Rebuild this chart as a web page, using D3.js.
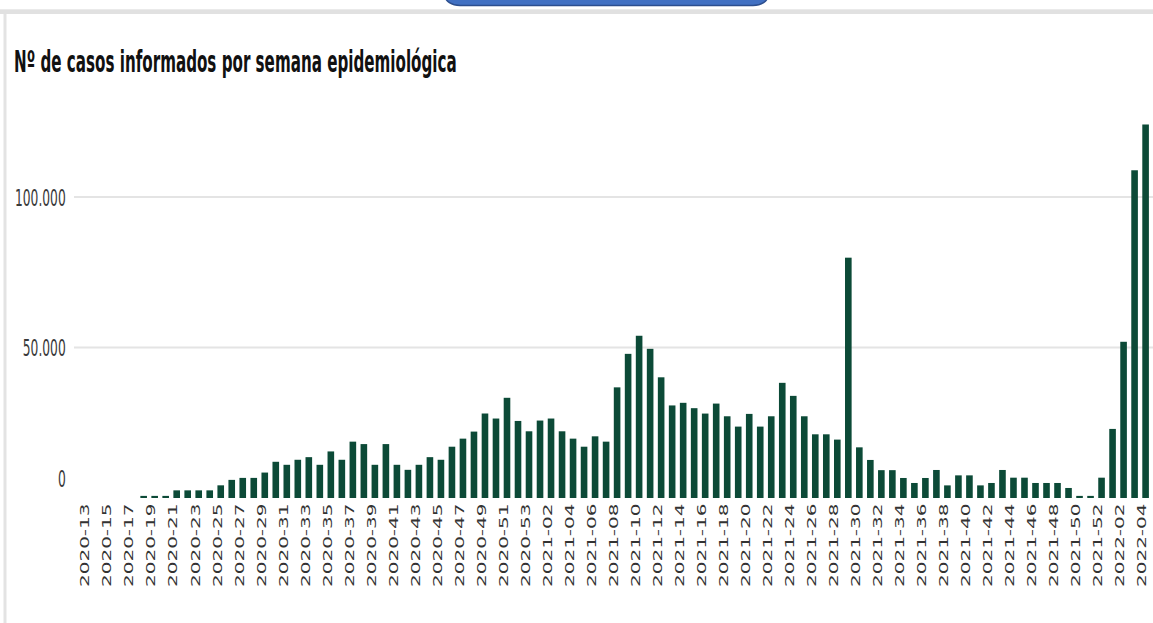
<!DOCTYPE html>
<html><head><meta charset="utf-8">
<script src="https://cdn.jsdelivr.net/npm/d3@7"></script>
<style>html,body{margin:0;padding:0;background:#fff;overflow:hidden}svg{display:block}</style>
</head><body>
<svg id="c" width="1153" height="623"></svg>
<script>
const title = "Nº de casos informados por semana epidemiológica";
const weeks = [
"2020-13","2020-14","2020-15","2020-16","2020-17","2020-18","2020-19","2020-20","2020-21","2020-22",
"2020-23","2020-24","2020-25","2020-26","2020-27","2020-28","2020-29","2020-30","2020-31","2020-32",
"2020-33","2020-34","2020-35","2020-36","2020-37","2020-38","2020-39","2020-40","2020-41","2020-42",
"2020-43","2020-44","2020-45","2020-46","2020-47","2020-48","2020-49","2020-50","2020-51","2020-52",
"2020-53","2021-01","2021-02","2021-03","2021-04","2021-05","2021-06","2021-07","2021-08","2021-09",
"2021-10","2021-11","2021-12","2021-13","2021-14","2021-15","2021-16","2021-17","2021-18","2021-19",
"2021-20","2021-21","2021-22","2021-23","2021-24","2021-25","2021-26","2021-27","2021-28","2021-29",
"2021-30","2021-31","2021-32","2021-33","2021-34","2021-35","2021-36","2021-37","2021-38","2021-39",
"2021-40","2021-41","2021-42","2021-43","2021-44","2021-45","2021-46","2021-47","2021-48","2021-49",
"2021-50","2021-51","2021-52","2022-01","2022-02","2022-03","2022-04"];
const cases = [
0,0,0,0,0,700,700,700,2540,2540,
2540,2540,4210,6020,6680,6680,8450,12030,11030,12700,
13570,11030,15470,12700,18720,17910,11030,17910,11030,9360,
11030,13570,12700,17040,19720,22060,28070,26400,33290,25600,
22160,25730,26400,22160,19720,17040,20490,18720,36760,47890,
53900,49560,40100,30750,31620,29840,28050,31370,27150,23720,
27940,23720,27150,38260,33930,27150,21160,21160,19400,79840,
16830,12640,9250,9250,6650,4990,6650,9310,4190,7520,
7520,4190,4990,9310,6750,6750,4990,4990,4990,3330,
700,700,6750,22950,51900,108880,124090];
const yTicks = [0, 50000, 100000];
const yTickLabels = ["0", "50.000", "100.000"];

const svg = d3.select("#c");

// page decoration
svg.append("rect").attr("x", 0).attr("y", 9.3).attr("width", 1153).attr("height", 4.7).attr("fill", "#e1e1e1");
svg.append("rect").attr("x", 3.5).attr("y", 14).attr("width", 3).attr("height", 609).attr("fill", "#e3e3e3");
svg.append("rect").attr("x", 445).attr("y", -20).attr("width", 323).attr("height", 25.5)
  .attr("rx", 15).attr("ry", 10).attr("fill", "#4170c2").attr("stroke", "#2c4e8e").attr("stroke-width", 1.5);

// title
svg.append("text").attr("x", 14).attr("y", 71.7)
  .attr("font-family", "DejaVu Sans").attr("font-weight", "bold").attr("font-size", 29.8)
  .attr("textLength", 442.7).attr("lengthAdjust", "spacingAndGlyphs")
  .attr("fill", "#111").text(title);

const x = d3.scaleBand().domain(weeks).range([83.1, 1151.1]).paddingInner(0.4).paddingOuter(0.2);
const y = d3.scaleLinear().domain([0, 100000]).range([498, 197]);

// gridlines
svg.append("g").selectAll("line").data(yTicks.filter(d => d > 0)).join("line")
  .attr("x1", 74).attr("x2", 1153).attr("y1", d => y(d)).attr("y2", d => y(d))
  .attr("stroke", "#e4e4e4").attr("stroke-width", 2);

// y labels
svg.append("g").selectAll("text").data(yTicks).join("text")
  .attr("transform", (d, i) => `translate(65.7,${(d === 0 ? y(d) - 19.7 : y(d)) + 8.5}) scale(0.526,1)`)
  .attr("text-anchor", "end").attr("font-family", "DejaVu Sans").attr("font-size", 23.3)
  .attr("fill", "#3a3a3a").text((d, i) => yTickLabels[i]);

// bars
svg.append("g").selectAll("rect").data(cases).join("rect")
  .attr("x", (d, i) => x(weeks[i])).attr("width", x.bandwidth())
  .attr("y", d => y(d)).attr("height", d => y(0) - y(d))
  .attr("fill", "#0c4a37");

// x labels
svg.append("g").selectAll("text").data(weeks.filter((w, i) => i % 2 === 0)).join("text")
  .attr("transform", d => `translate(${x(d) + x.bandwidth() / 2 + 0.8},503.5) scale(0.57,1) rotate(-90)`)
  .attr("text-anchor", "end").attr("font-family", "DejaVu Sans").attr("font-size", 20)
  .attr("fill", "#333").text(d => d);
</script>
</body></html>
